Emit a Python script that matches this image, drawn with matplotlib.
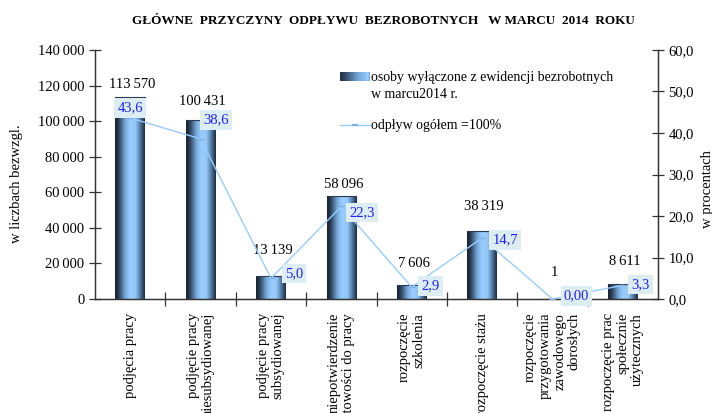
import matplotlib
matplotlib.use("Agg")
import matplotlib.pyplot as plt
import numpy as np
from matplotlib.colors import LinearSegmentedColormap
from matplotlib.patches import Rectangle
from matplotlib.lines import Line2D

plt.rcParams['font.family'] = ['Liberation Serif', 'DejaVu Serif']

title = "GŁÓWNE  PRZYCZYNY  ODPŁYWU  BEZROBOTNYCH   W MARCU  2014  ROKU"
categories = [
    "podjęcia pracy",
    "podjęcie pracy\nniesubsydiowanej",
    "podjęcie pracy\nsubsydiowanej",
    "niepotwierdzenie\ngotowości do pracy",
    "rozpoczęcie\nszkolenia",
    "rozpoczęcie stażu",
    "rozpoczęcie\nprzygotowania\nzawodowego\ndorosłych",
    "rozpoczęcie prac\nspołecznie\nużytecznych",
]
counts = [113570, 100431, 13139, 58096, 7606, 38319, 1, 8611]
percents = [43.6, 38.6, 5.0, 22.3, 2.9, 14.7, 0.00, 3.3]
percent_labels = ["43,6", "38,6", "5,0", "22,3", "2,9", "14,7", "0,00", "3,3"]
left_ticks = [0, 20000, 40000, 60000, 80000, 100000, 120000, 140000]
right_ticks = [0, 10, 20, 30, 40, 50, 60]
legend_bar = "osoby wyłączone z ewidencji bezrobotnych\nw marcu2014 r."
legend_line = "odpływ ogółem =100%"

# label offsets (pixels) - styling
count_dy = [13, 19, 25, 11, 22, 24, 26, 22]
pct_off = [(0, 10), (15, 19), (23, 5), (21, -6), (19, 1), (23, -2), (24, 3), (18, 1)]

def fmt_thousands(v):
    s = f"{int(round(v)):,}".replace(",", "\u2009")
    return s

W, H = 712, 413
fig = plt.figure(figsize=(W / 100, H / 100), dpi=100)
ax = fig.add_axes([95 / W, 1 - 299 / H, (658 - 95) / W, (299 - 50) / H])
ax2 = ax.twinx()

x = np.arange(len(categories))
ax.set_xlim(-0.5, len(categories) - 0.5)
ax.set_ylim(0, 140000)
ax2.set_ylim(0, 60)

cmap = LinearSegmentedColormap.from_list("cyl", [
    (0.0, '#18202c'), (0.12, '#2a3d55'), (0.35, '#78abdd'), (0.5, '#99ccff'),
    (0.68, '#96c8fa'), (0.85, '#4d779f'), (1.0, '#1c2a3a')])
grad = np.linspace(0, 1, 256).reshape(1, -1)

bars = ax.bar(x, counts, width=0.42, color='#99ccff', edgecolor='none', zorder=2)
for b in bars:
    bx, bw, bh = b.get_x(), b.get_width(), b.get_height()
    if bh <= 0:
        continue
    im = ax.imshow(grad, cmap=cmap, aspect='auto', extent=(bx, bx + bw, 0, bh),
                   zorder=2.1, interpolation='bicubic')
    im.set_clip_path(b)
    ax.plot([bx, bx + bw], [bh, bh], color='#2a3a50', lw=0.8, zorder=2.2)

for i, (b, v) in enumerate(zip(bars, counts)):
    ax.annotate(fmt_thousands(v), (b.get_x() + b.get_width() / 2, v),
                xytext=(2, count_dy[i]), textcoords='offset pixels',
                ha='center', va='center', fontsize=10.5, color='black', zorder=5)

ax.set_xlim(-0.5, len(categories) - 0.5)
ax.set_ylim(0, 140000)

ax2.plot(x, percents, color='#99ccff', lw=1.0, marker='_', markersize=4,
         markeredgecolor='#7fb0e0', zorder=3)
for i, (p, lab) in enumerate(zip(percents, percent_labels)):
    ax2.annotate(lab, (x[i], p), xytext=pct_off[i], textcoords='offset pixels',
                 ha='center', va='center', fontsize=10.5, color='#2020ff',
                 bbox=dict(boxstyle='square,pad=0.22', fc='#dcedf3', ec='none'),
                 zorder=6)

# axes styling
for a in (ax, ax2):
    a.spines['top'].set_visible(False)
    for s in ('left', 'right', 'bottom'):
        a.spines[s].set_color('#333333')
        a.spines[s].set_linewidth(0.9)
ax.set_zorder(ax2.get_zorder() - 1)
ax.patch.set_visible(False)

ax.set_yticks(left_ticks)
ax.set_yticklabels([fmt_thousands(t) for t in left_ticks], fontsize=10.5)
ax2.set_yticks(right_ticks)
ax2.set_yticklabels([f"{t:.1f}".replace(".", ",") for t in right_ticks], fontsize=10.5)
ax.tick_params(axis='y', direction='inout', length=9, width=0.9, color='#333333', pad=3)
ax2.tick_params(axis='y', direction='inout', length=9, width=0.9, color='#333333', pad=3)

ax.set_xticks(np.arange(0.5, len(categories) - 0.5, 1.0))
ax.set_xticklabels([])
ax.tick_params(axis='x', direction='inout', length=10, width=0.9, color='#333333')
ax.set_xticks(x, minor=True)
ax.set_xticklabels(categories, minor=True, rotation=90, fontsize=10.5,
                   ha='center', va='top', multialignment='right', linespacing=1.15)
ax.tick_params(axis='x', which='minor', length=0, pad=10)

fig.text(17 / W, 1 - 184 / H, "w liczbach bezwzgl.", rotation=90, ha='center',
         va='center', fontsize=10.5)
fig.text(707 / W, 1 - 189 / H, "w procentach", rotation=90, ha='center',
         va='center', fontsize=10.5)
fig.text(383 / W, 1 - 21 / H, title, ha='center', va='center', fontsize=9.5,
         fontweight='bold')

# legend (manual)
lx0, lx1, ly = 340, 370, 76
n = 30
for k in range(n):
    fig.patches.append(Rectangle(((lx0 + k * (lx1 - lx0) / n) / W, 1 - (ly + 4.5) / H),
                                 (lx1 - lx0) / n / W + 0.0005, 9 / H,
                                 transform=fig.transFigure,
                                 facecolor=cmap(0.08 + 0.42 * k / (n - 1) if k < n - 3 else 0.55 + 0.1 * (k - n + 3)),
                                 edgecolor='none'))
fig.text(371 / W, 1 - 86 / H, legend_bar, ha='left', va='center', fontsize=10,
         linespacing=1.45)
fig.lines.append(Line2D([lx0 / W, lx1 / W], [1 - 125 / H, 1 - 125 / H],
                        transform=fig.transFigure, color='#99ccff', lw=1.0))
fig.lines.append(Line2D([353 / W, 357 / W], [1 - 125 / H, 1 - 125 / H],
                        transform=fig.transFigure, color='#7fb0e0', lw=1.6))
fig.text(371 / W, 1 - 125 / H, legend_line, ha='left', va='center', fontsize=10)

fig.savefig("out.png", dpi=100)
